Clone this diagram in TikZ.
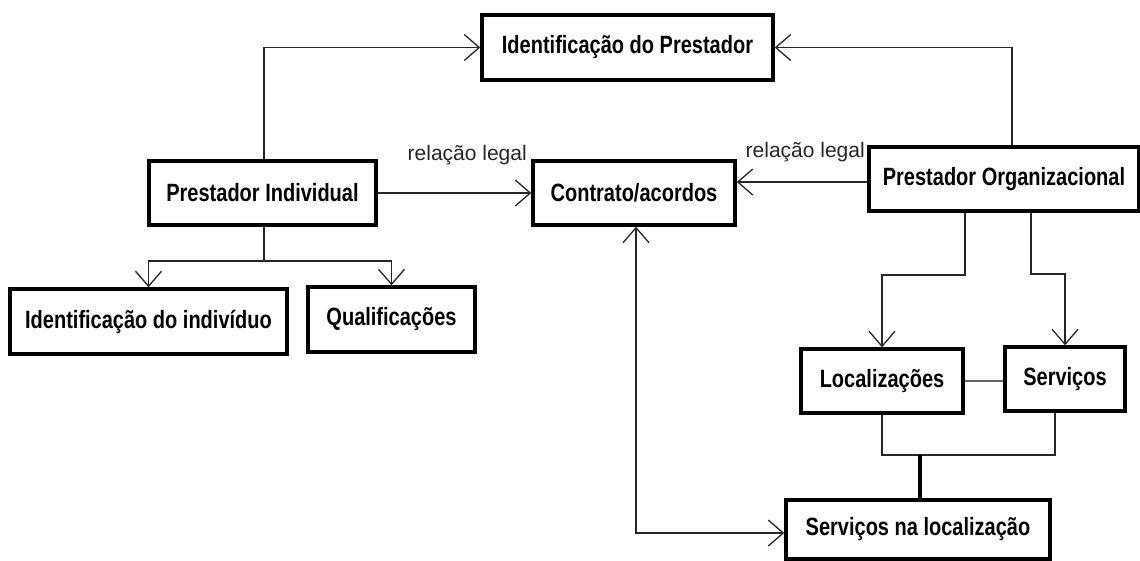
\documentclass[tikz,border=0pt]{standalone}
\usepackage{fontspec}
\setmainfont{Liberation Sans}[FakeStretch=0.8]
\newfontfamily\labelfont{Liberation Sans}
\usetikzlibrary{arrows.meta}
\begin{document}
\begin{tikzpicture}[x=1pt,y=-1pt,
  box/.style={draw=black, line width=3.5pt, fill=white, inner sep=0pt,
    font=\fontsize{25}{30}\selectfont\bfseries},
  conn/.style={draw=black!85, line width=1.7pt},
  tip/.tip={Straight Barb[length=15pt,width=26pt,line width=1.3pt]},
  arr/.style={-tip},
  lbl/.style={font=\labelfont\fontsize{21}{25}\selectfont, text=black!85, inner sep=0pt}]
\useasboundingbox (0,0) rectangle (1140,560);
\fill[white] (0,0) rectangle (1140,560);

% boxes
\node[box, minimum width=291pt, minimum height=65pt] (IdP) at (627.5,47.5) {Identificação do Prestador};
\node[box, minimum width=227pt, minimum height=64pt] (PI)  at (262.5,193) {Prestador Individual};
\node[box, minimum width=202pt, minimum height=64pt] (Con) at (634,193) {Contrato/acordos};
\node[box, minimum width=270pt, minimum height=64pt] (PO)  at (1004,179) {Prestador Organizacional};
\node[box, minimum width=277pt, minimum height=65pt] (IdI) at (148.5,321.5) {Identificação do indivíduo};
\node[box, minimum width=167pt, minimum height=65pt] (Qual) at (391.5,319.5) {Qualificações};
\node[box, minimum width=162pt, minimum height=64pt] (Loc) at (882,381) {Localizações};
\node[box, minimum width=120pt, minimum height=64pt] (Ser) at (1065,379) {Serviços};
\node[box, minimum width=264pt, minimum height=59pt] (SnL) at (918,529.5) {Serviços na localização};

% labels
\node[lbl, anchor=base east] (rl1) at (527,160) {relação legal};
\node[lbl, anchor=base east] (rl2) at (865,157) {relação legal};

% connectors
\draw[conn,arr] ([xshift=1.5pt]PI.north) |- (IdP.west);
\draw[conn,arr] ([xshift=8pt]PO.north) |- (IdP.east);
\draw[conn,arr] (PI.east) -- (PI.east -| Con.west);
\draw[conn,arr] ([yshift=-3pt]PO.west) -- ([yshift=-3pt]PO.west -| Con.east);

\coordinate (b1) at ([xshift=1.5pt,yshift=-34pt]PI.south);
\draw[conn] ([xshift=1.5pt]PI.south) -- (b1);
\draw[conn,arr] (b1) -| (IdI.north);
\draw[conn,arr] (b1) -| (Qual.north);

\draw[conn,arr] ([xshift=-39pt]PO.south) -- ++(0,62) -| (Loc.north);
\draw[conn,arr] ([xshift=27pt]PO.south) -- ++(0,61) -| (Ser.north);

\draw[conn, draw=black!60] (Loc.east) -- (Loc.east -| Ser.west);
\coordinate (j1) at ([yshift=-40pt]Loc.south);
\draw[conn] (Loc.south) -- (j1) -| ([xshift=-10pt]Ser.south);
\draw[draw=black, line width=3.2pt] (j1 -| SnL.north) ++(2,0) -- ([xshift=2pt]SnL.north);

\draw[conn,tip-tip] ([xshift=2pt]Con.south) |- ([yshift=-3.5pt]SnL.west);
\end{tikzpicture}
\end{document}
